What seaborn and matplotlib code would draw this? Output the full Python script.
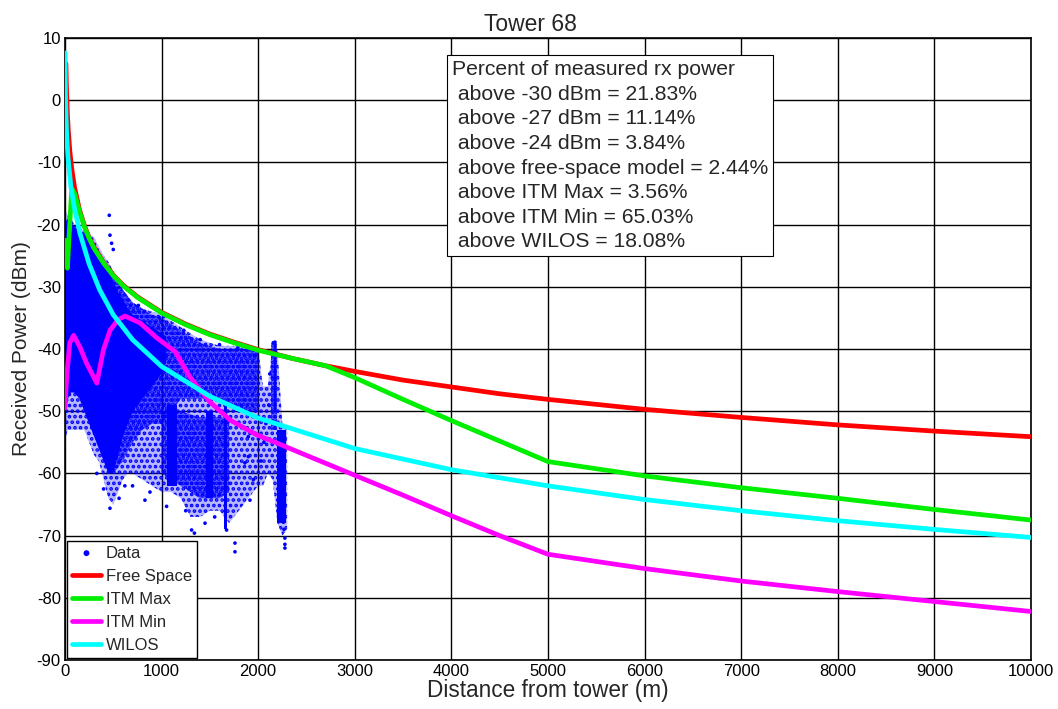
import numpy as np
import pandas as pd
import matplotlib
matplotlib.use("Agg")
import matplotlib.pyplot as plt
import seaborn as sns

# ---------------- data ----------------
fs_dist = [10, 15, 25, 35, 50, 70, 100, 150, 200, 250, 300, 400, 500, 600, 750, 1000,
           1250, 1500, 1750, 2000, 2350, 2700, 3000, 3500, 4000, 4500, 5000, 6000,
           7000, 8000, 9000, 10000]
fs_power = [5.9, 2.4, -2.1, -5.0, -8.1, -11.0, -14.1, -17.6, -20.1, -22.1, -23.6, -26.1,
            -28.1, -29.7, -31.6, -34.1, -36.0, -37.6, -38.9, -40.1, -41.5, -42.7, -43.6,
            -45.0, -46.1, -47.2, -48.1, -49.7, -51.0, -52.2, -53.2, -54.1]

itmmax_dist = [0, 10, 25, 70, 100, 150, 200, 250, 300, 400, 500, 600, 750, 1000, 1250,
               1500, 1750, 2000, 2350, 2700, 3000, 3500, 4000, 4500, 5000, 6000, 7000,
               8000, 9000, 10000]
itmmax_power = [-22.5, -23.0, -27.0, -14.2, -15.0, -17.9, -20.3, -22.2, -23.8, -26.2,
                -28.2, -29.8, -31.7, -34.2, -36.1, -37.7, -39.0, -40.2, -41.5, -42.7,
                -44.6, -48.1, -51.5, -54.8, -58.1, -60.4, -62.3, -64.0, -65.8, -67.5]

itmmin_dist = [0, 20, 50, 90, 155, 224, 330, 397, 466, 550, 621, 776, 950, 1140, 1294,
               1500, 1708, 1984, 2191, 2500, 3000, 3500, 4000, 4500, 5000, 6000, 7000,
               8000, 9000, 10000]
itmmin_power = [-49.5, -44.0, -39.0, -37.8, -39.7, -42.3, -45.5, -40.2, -37.0, -35.3,
                -34.7, -35.8, -38.2, -40.4, -44.5, -48.5, -51.4, -53.8, -55.1, -57.1,
                -60.3, -63.5, -66.8, -70.0, -73.0, -75.3, -77.3, -79.0, -80.6, -82.2]

wilos_dist = [1, 5, 10, 17, 30, 62, 100, 155, 250, 360, 500, 700, 1000, 1500, 2000,
              3000, 4000, 5000, 6000, 7000, 8000, 9000, 10000]
wilos_power = [7.6, 1.0, -2.0, -5.3, -9.0, -14.0, -17.5, -21.4, -26.3, -30.5, -34.5,
               -38.5, -42.8, -47.6, -51.1, -56.0, -59.4, -62.0, -64.2, -66.0, -67.6,
               -69.0, -70.3]

# measured data cloud: outer envelope (sparse points)
env_dist = [0, 10, 30, 60, 100, 150, 200, 250, 300, 350, 400, 450, 500, 550, 600, 650,
            700, 800, 900, 1000, 1100, 1200, 1300, 1400, 1500, 1600, 1700, 1800, 1900,
            2000, 2050, 2100, 2150, 2200, 2250, 2300]
env_top = [-19, -18, -18.5, -19, -20, -20.5, -21, -21.5, -22, -23.5, -25, -26, -27.5,
           -29, -30.5, -31.5, -32.5, -33.5, -34, -34.5, -35.5, -36.5, -37.5, -38.5, -39,
           -39.5, -39.5, -39.5, -39.5, -40, -46, -46, -39.5, -40, -52, -53]
env_bot = [-58, -54, -53, -53, -53, -53, -53, -55, -57, -58, -61, -64, -65, -63, -61,
           -60, -60, -61, -62, -63, -63, -64, -67, -67, -66, -66, -68, -66, -64, -62,
           -62, -60, -61, -68, -70, -69]

# measured data cloud: medium-density bands (NaN separates pieces)
mid_dist = [500, 600, 700, 800, 900, 1000, 1100, 1200, 1300, 1400, 1500, 1600, 1700,
            1800, 1900, 2000, np.nan, 1000, 1200, 1400, 1600, 1700, np.nan, 2130, 2190]
mid_top = [-28, -30.5, -32.5, -33.5, -34.5, -35, -36, -37, -38, -39, -39.5, -40, -40,
           -40, -40, -40.5, np.nan, -50, -50, -51, -51, -51, np.nan, -39, -39]
mid_bot = [-60, -58, -55, -53, -52, -52, -50, -48, -48, -48, -48, -48, -49, -50, -50,
           -50, np.nan, -60, -62, -64, -64, -63, np.nan, -53, -53]

# measured data cloud: dense core and dense strips (NaN separates pieces)
core_dist = [0, 8, 30, 60, 100, 150, 200, 250, 300, 350, 400, 450, 500, 550, 600, 650,
             700, 800, 900, 1000, 1050, np.nan, 1060, 1160, np.nan, 1460, 1530, np.nan,
             1645, 1675, np.nan, 2160, 2185, np.nan, 2200, 2290]
core_top = [-20, -19.5, -19, -19.5, -20.5, -21, -21.5, -22, -23, -24.5, -26, -27.5, -29,
            -31, -32, -33.5, -34.5, -35.5, -36.5, -37.5, -38, np.nan, -49, -49, np.nan,
            -50, -50, np.nan, -49, -49, np.nan, -39, -39, np.nan, -53, -53]
core_bot = [-57, -50, -48, -47, -47, -48, -50, -52, -54, -56, -58, -60, -60, -57, -54,
            -52, -50, -48, -46, -44, -42, np.nan, -62, -62, np.nan, -64, -64, np.nan,
            -69, -69, np.nan, -50, -50, np.nan, -68, -68]

# scattered individual measurements
pts_dist = [459, 466, 483, 500, 2157, 2174, 2180, 1960, 466, 828, 1311, 1340, 1673,
            1760, 1760, 2277, 2267, 1052, 1915, 1898, 1898, 1863, 2277, 2277, 1790,
            1230, 1400, 1600, 980, 760, 2120, 2080, 2030, 700, 560, 2060, 2110, 1950,
            1250, 1450, 1550, 880, 620, 400, 330]
pts_power = [-18.5, -21.7, -23.0, -24.0, -39.0, -38.9, -40.5, -41.0, -65.6, -64.3,
             -69.1, -69.6, -69.1, -71.2, -72.6, -72.0, -69.0, -65.3, -64.3, -54.1,
             -57.3, -58.3, -70.4, -71.4, -39.8, -37.0, -38.5, -39.3, -35.0, -33.0,
             -44.0, -52.0, -58.0, -62.0, -64.0, -55.0, -49.0, -61.0, -66.0, -68.0,
             -67.0, -63.0, -62.0, -62.5, -60.0]

x_ticks = [0, 1000, 2000, 3000, 4000, 5000, 6000, 7000, 8000, 9000, 10000]
y_ticks = [10, 0, -10, -20, -30, -40, -50, -60, -70, -80, -90]

stats_lines = ["Percent of measured rx power",
               " above -30 dBm = 21.83%",
               " above -27 dBm = 11.14%",
               " above -24 dBm = 3.84%",
               " above free-space model = 2.44%",
               " above ITM Max = 3.56%",
               " above ITM Min = 65.03%",
               " above WILOS = 18.08%"]

# ---------------- style ----------------
sns.set_theme(style="white")
plt.rcParams['font.family'] = ['Liberation Sans', 'DejaVu Sans']
plt.rcParams['axes.unicode_minus'] = False
plt.rcParams['hatch.linewidth'] = 1.8

fig = plt.figure(figsize=(10.58, 7.09), dpi=100)
ax = fig.add_axes([0.0614, 0.0691, 0.9130, 0.8773])

BLUE = '#0000ff'
# data cloud: speckled outer region, denser bands, solid core
ax.fill_between(env_dist, env_top, env_bot, facecolor=(0, 0, 1, 0.28), edgecolor=BLUE,
                hatch='...', lw=0, zorder=2)
ax.fill_between(mid_dist, mid_top, mid_bot, facecolor=(0, 0, 1, 0.5), edgecolor=BLUE,
                hatch='....', lw=0, zorder=2)
ax.fill_between(core_dist, core_top, core_bot, color=BLUE, lw=0, zorder=2)
pts = pd.DataFrame({'d': pts_dist, 'p': pts_power})
sns.scatterplot(data=pts, x='d', y='p', ax=ax, color=BLUE, s=7, marker='o',
                edgecolor='none', label='Data', zorder=3)

lw = 3.4
sns.lineplot(x=fs_dist, y=fs_power, ax=ax, color='#ff0000', lw=lw, label='Free Space',
             zorder=4, sort=False)
sns.lineplot(x=itmmax_dist, y=itmmax_power, ax=ax, color='#00ee00', lw=lw,
             label='ITM Max', zorder=5, sort=False)
sns.lineplot(x=itmmin_dist, y=itmmin_power, ax=ax, color='#ff00ff', lw=lw,
             label='ITM Min', zorder=6, sort=False)
sns.lineplot(x=wilos_dist, y=wilos_power, ax=ax, color='#00ffff', lw=lw,
             label='WILOS', zorder=7, sort=False)

ax.set_xlim(0, 10000)
ax.set_ylim(-90, 10)
ax.set_xticks(x_ticks)
ax.set_yticks(y_ticks)
ax.tick_params(axis='both', labelsize=12, direction='in', length=0, pad=3,
               colors='black')
ax.grid(True, color='black', lw=1.0, zorder=1)
ax.set_axisbelow(True)
for s in ax.spines.values():
    s.set_color('black')
    s.set_linewidth(1.2)
    s.set_visible(True)

ax.set_xlabel('Distance from tower (m)', fontsize=16.3, labelpad=0)
ax.set_ylabel('Received Power (dBm)', fontsize=15, labelpad=4)
ax.set_title('Tower 68', fontsize=16.5, pad=5, x=0.482)

leg = ax.legend(loc='lower left', bbox_to_anchor=(0.002, 0.004), borderaxespad=0,
                fontsize=12, frameon=True, fancybox=False, edgecolor='black',
                framealpha=1, handlelength=1.75, handletextpad=0.3, labelspacing=0.48,
                borderpad=0.3, markerscale=1.6)
leg.get_frame().set_linewidth(1.0)

ax.text(0.4005, 0.964, "\n".join(stats_lines), transform=ax.transAxes, ha='left',
        va='top', fontsize=15.2, linespacing=1.37, zorder=10,
        bbox=dict(boxstyle='square,pad=0.24', fc='white', ec='black', lw=0.8))

fig.savefig('out.png', dpi=100)
